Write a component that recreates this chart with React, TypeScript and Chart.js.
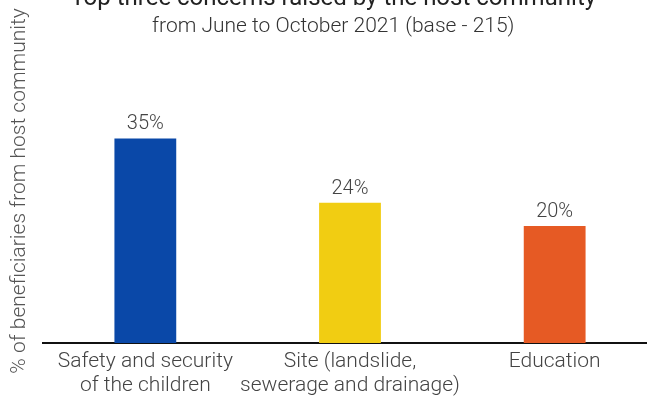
import React, { useEffect, useRef } from "react";
import { Chart, registerables } from "chart.js";

Chart.register(...registerables);

const categories: string[][] = [
  ["Safety and security", "of the children"],
  ["Site (landslide,", "sewerage and drainage)"],
  ["Education"],
];
const values: number[] = [35, 24, 20];
const barColors: string[] = ["#0A48A8", "#F1CD12", "#E65A24"];
const titleText = "Top three concerns raised by the host community";
const subtitleText = "from June to October 2021 (base - 215)";
const yTitle = "% of beneficiaries from host community";

const FONT = "Roboto";

const valueLabels = {
  id: "valueLabels",
  afterDatasetsDraw(chart: any) {
    const ctx = chart.ctx;
    const meta = chart.getDatasetMeta(0);
    ctx.save();
    ctx.font = `300 20px ${FONT}`;
    ctx.fillStyle = "#444444";
    ctx.textAlign = "center";
    ctx.textBaseline = "alphabetic";
    meta.data.forEach((bar: any, i: number) => {
      ctx.fillText(`${values[i]}%`, bar.x, bar.y - 9);
    });
    ctx.restore();
  },
};

export default function App() {
  const ref = useRef<HTMLCanvasElement | null>(null);
  useEffect(() => {
    if (!ref.current) return;
    const chart = new Chart(ref.current, {
      type: "bar",
      data: {
        labels: categories,
        datasets: [
          {
            data: values,
            backgroundColor: barColors,
            borderWidth: 0,
            barPercentage: 0.302,
            categoryPercentage: 1,
          },
        ],
      },
      options: {
        responsive: false,
        animation: false,
        devicePixelRatio: 1,
        layout: { padding: { left: 9.5, right: 0, top: 0, bottom: 0 } },
        plugins: {
          legend: { display: false },
          tooltip: { enabled: false },
          title: {
            display: true,
            text: titleText,
            color: "#222222",
            font: { family: FONT, size: 24, weight: "400" as any },
            padding: { top: 0, bottom: 0 },
          },
          subtitle: {
            display: true,
            text: subtitleText,
            color: "#333333",
            font: { family: FONT, size: 21, weight: "300" as any },
            padding: { top: 0, bottom: 0 },
          },
        },
        scales: {
          x: {
            grid: { display: false, drawTicks: false },
            border: { display: true, color: "#111111", width: 2 },
            afterFit: (scale: any) => {
              scale.height = 54;
            },
            ticks: {
              color: "#444444",
              padding: 7,
              maxRotation: 0,
              autoSkip: false,
              font: { family: FONT, size: 21, weight: "300" as any, lineHeight: 1.12 },
            },
          },
          y: {
            min: 0,
            max: 52,
            grid: { display: false, drawTicks: false },
            border: { display: false },
            ticks: { display: false },
            title: {
              display: true,
              text: yTitle,
              color: "#555555",
              font: { family: FONT, size: 21, weight: "300" as any, lineHeight: 1 },
              padding: { top: 0, bottom: 12.5 },
            },
          },
        },
      },
      plugins: [valueLabels],
    });
    return () => chart.destroy();
  }, []);
  return (
    <div
      style={{
        position: "fixed",
        top: 0,
        left: 0,
        width: 647,
        height: 397,
        overflow: "hidden",
        background: "#ffffff",
      }}
    >
      <canvas
        ref={ref}
        width={657}
        height={412}
        style={{ position: "absolute", top: -15, left: 0, width: 657, height: 412 }}
      />
    </div>
  );
}
